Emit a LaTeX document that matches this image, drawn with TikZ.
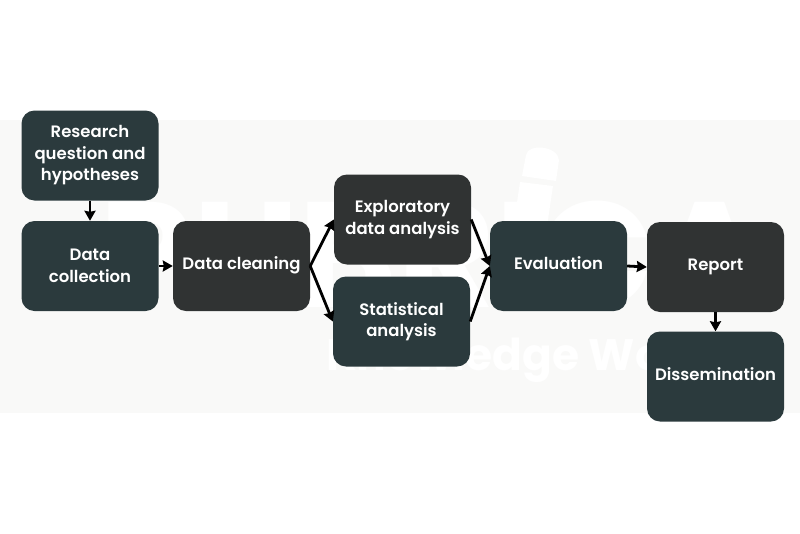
\documentclass[tikz,border=0pt]{standalone}
\usepackage{fontspec}
\setmainfont{Poppins}
\newfontfamily\boxfont{Poppins SemiBold}
\usepackage{xcolor}
\usetikzlibrary{arrows.meta}
\definecolor{tealbox}{HTML}{2B3A3D}
\definecolor{greybox}{HTML}{303333}
\definecolor{bandcol}{HTML}{F9F9F8}
\tikzset{
  stage/.style={
    draw=none,
    rectangle,
    rounded corners=13pt,
    minimum width=137pt,
    minimum height=90pt,
    inner sep=0pt,
    align=center,
    text=white,
    font=\fontsize{16.5}{21.5}\selectfont\boxfont,
  },
  teal/.style={stage, fill=tealbox},
  grey/.style={stage, fill=greybox},
  single/.style={text depth=5pt},
  flow/.style={line width=2.8pt, -{Stealth[length=10pt,width=11pt,inset=1pt]}},
  mark text/.style={text=white, inner sep=0pt},
}
\begin{document}
\begin{tikzpicture}[x=1pt,y=-1pt]
  \useasboundingbox (0,0) rectangle (800,533);
  \fill[white] (0,0) rectangle (800,533);
  \fill[bandcol] (0,120) rectangle (800,413);
  % watermark
  \node[mark text, font=\fontsize{150}{150}\selectfont\bfseries] (brand) at (432,255) {PUBRICA};
  \node[mark text, font=\fontsize{44}{44}\selectfont\bfseries] (works) at (530,360) {Knowledge Works};
  \fill[white] (522,176) -- (526,155) .. controls (528,143) and (558,146) .. (559,160) -- (556,181) -- cycle;
  \fill[white] (520,182) -- (553,186) -- (545,240) -- (512,236) -- cycle;
  % boxes
  \node[teal] (question) at (90,155.5) {Research\\question and\\hypotheses};
  \node[teal] (collect) at (90,266) {Data\\collection};
  \node[grey, single] (clean) at (241.5,266) {Data cleaning};
  \node[grey] (explore) at (402.5,219.5) {Exploratory\\data analysis};
  \node[teal] (stats) at (401.5,321.5) {Statistical\\analysis};
  \node[teal, single] (eval) at (558.5,266) {Evaluation};
  \node[grey, single] (report) at (715.5,267) {Report};
  \node[teal, single] (dissem) at (715.5,376.5) {Dissemination};
  % arrows
  \draw[flow] (question) -- (collect);
  \draw[flow] (collect) -- (clean);
  \foreach \a/\b in {clean/explore,clean/stats,explore/eval,stats/eval,eval/report} {
    \draw[flow] (\a.east) -- (\b.west);
  }
  \draw[flow] (report) -- (dissem);
\end{tikzpicture}
\end{document}
